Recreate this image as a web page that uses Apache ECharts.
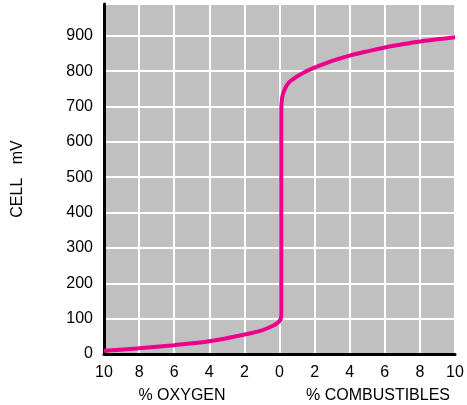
<!DOCTYPE html>
<html>
<head>
<meta charset="utf-8">
<script src="https://cdn.jsdelivr.net/npm/echarts@6/dist/echarts.min.js"></script>
<style>html,body{margin:0;padding:0;background:#fff;}#c{width:467px;height:405px;}</style>
</head>
<body>
<div id="c"></div>
<script>
// Signed x: negative = % oxygen, positive = % combustibles
const xValues = [-10, -8, -6, -4, -2, -1, -0.5, -0.2, 0, 0.07, 0.1, 0.1, 0.12, 0.2, 0.5, 1, 1.5, 2, 3, 4, 5, 6, 7, 8, 9, 10];
const cellMv  = [9, 16, 25, 36, 55, 67, 77, 85, 93, 100, 110, 680, 712, 736, 766, 785, 799, 810, 829, 844, 856, 867, 876, 884, 890, 896];
const xTicks = [-10, -8, -6, -4, -2, 0, 2, 4, 6, 8, 10];
const yTicks = [0, 100, 200, 300, 400, 500, 600, 700, 800, 900];
const yTitle = 'CELL   mV';
const leftTitle = '% OXYGEN';
const rightTitle = '% COMBUSTIBLES';

const chart = echarts.init(document.getElementById('c'), null, {renderer: 'canvas'});
const font = '"Liberation Sans", Arial, sans-serif';
chart.setOption({
  animation: false,
  grid: {left: 104, right: 12, top: 4, bottom: 51, show: true, backgroundColor: '#c0c0c0', borderWidth: 0},
  xAxis: {
    type: 'value', min: xTicks[0], max: xTicks[xTicks.length - 1], interval: 2,
    axisLine: {show: true, onZero: false, lineStyle: {color: '#000', width: 3}},
    axisTick: {show: false},
    axisLabel: {color: '#000', fontSize: 16, fontFamily: font, margin: 11,
      formatter: v => xTicks.includes(v) ? String(Math.abs(v)) : ''},
    splitLine: {show: true, lineStyle: {color: '#fff', width: 2}}
  },
  yAxis: {
    type: 'value', min: 0, max: 990, interval: 100,
    name: yTitle, nameLocation: 'middle', nameRotate: 90, nameGap: 78,
    nameTextStyle: {color: '#000', fontSize: 16, fontFamily: font},
    axisLine: {show: true, onZero: false, lineStyle: {color: '#000', width: 3}},
    axisTick: {show: false},
    axisLabel: {color: '#000', fontSize: 16, fontFamily: font, margin: 11,
      formatter: v => yTicks.includes(v) ? String(v) : ''},
    splitLine: {show: true, lineStyle: {color: '#fff', width: 2}}
  },
  graphic: [
    {type: 'text', x: 182, y: 396, style: {text: leftTitle, fill: '#000', font: '16px ' + font, textAlign: 'center', textVerticalAlign: 'middle'}},
    {type: 'text', x: 378, y: 396, style: {text: rightTitle, fill: '#000', font: '16px ' + font, textAlign: 'center', textVerticalAlign: 'middle'}}
  ],
  series: [{
    type: 'line', showSymbol: false, smooth: 0.3,
    data: xValues.map((x, i) => [x, cellMv[i]]),
    lineStyle: {color: '#ec008c', width: 4},
    clip: false
  }]
});
</script>
</body>
</html>
